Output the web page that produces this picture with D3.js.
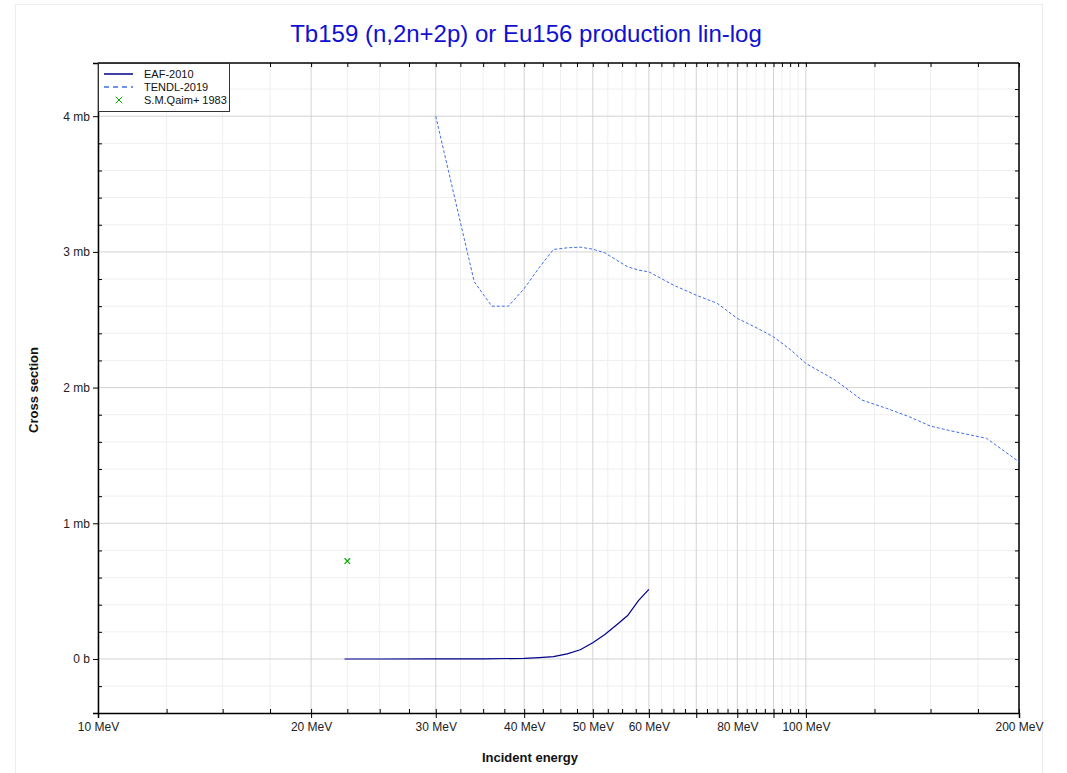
<!DOCTYPE html>
<html><head><meta charset="utf-8">
<script src="https://cdn.jsdelivr.net/npm/d3@7"></script>
<style>body{margin:0;background:#fff;} text{font-family:"Liberation Sans",Arial,sans-serif;}</style>
</head><body><svg id="c" width="1067" height="773"></svg>
<script>
// ---- data ----
const eafEnergy = [22.3, 25, 30, 35, 40, 42, 44, 46, 48, 50, 52, 54, 56, 58, 60];
const eafXs     = [0, 0, 0.0005, 0.001, 0.005, 0.01, 0.017, 0.038, 0.068, 0.12, 0.18, 0.25, 0.32, 0.43, 0.513];
const tendlEnergy = [30, 32, 34, 36, 38, 40, 42, 44, 46, 48, 50, 52, 54, 56, 58, 60, 65, 70, 75, 80, 85, 90, 95, 100, 110, 120, 130, 140, 150, 160, 180, 200];
const tendlXs     = [4.0, 3.37, 2.78, 2.60, 2.60, 2.73, 2.884, 3.018, 3.03, 3.035, 3.02, 2.993, 2.94, 2.89, 2.866, 2.853, 2.755, 2.681, 2.62, 2.51, 2.443, 2.374, 2.281, 2.178, 2.055, 1.908, 1.847, 1.785, 1.716, 1.682, 1.626, 1.453];
const qaimEnergy = [22.5];
const qaimXs     = [0.722];
const xMajor = [10, 20, 30, 40, 50, 60, 70, 80, 90, 100, 200];
const xLabels = {10:"10 MeV",20:"20 MeV",30:"30 MeV",40:"40 MeV",50:"50 MeV",60:"60 MeV",80:"80 MeV",100:"100 MeV",200:"200 MeV"};
const yMajor = [0, 1, 2, 3, 4];
const yLabels = ["0 b", "1 mb", "2 mb", "3 mb", "4 mb"];
const legendNames = ["EAF-2010", "TENDL-2019", "S.M.Qaim+ 1983"];
const title = "Tb159 (n,2n+2p) or Eu156 production lin-log";

// ---- layout ----
const svg = d3.select("#c");
const L = 98, R = 1019, T = 63, B = 713;
const x = d3.scaleLog().domain([10, 200]).range([L, R]);
const y = d3.scaleLinear().domain([-0.398, 4.392]).range([B, T]);

// minor ticks
const xMinor = [];
for (let d = 10; d < 100; d += 10) for (let k = 1; k < 4; k++) xMinor.push(d + 2.5 * k);
[125, 150, 175].forEach(v => xMinor.push(v));
const yMinor = [];
for (let v = -0.2; v <= 4.4; v += 0.2) { const r = Math.round(v * 10) / 10; if (Math.abs(r - Math.round(r)) > 1e-6) yMinor.push(r); }

svg.append("rect").attr("x", 15.5).attr("y", 4.5).attr("width", 1027).attr("height", 800)
  .attr("fill", "none").attr("stroke", "#ececec");

const g = svg.append("g");
g.selectAll(".xmg").data(xMinor).join("line").attr("x1", d => x(d)).attr("x2", d => x(d))
  .attr("y1", T).attr("y2", B).attr("stroke", "#efefef").attr("stroke-width", 1);
g.selectAll(".ymg").data(yMinor).join("line").attr("y1", d => y(d)).attr("y2", d => y(d))
  .attr("x1", L).attr("x2", R).attr("stroke", "#efefef").attr("stroke-width", 1);
g.selectAll(".xMg").data(xMajor).join("line").attr("x1", d => x(d)).attr("x2", d => x(d))
  .attr("y1", T).attr("y2", B).attr("stroke", "#d3d3d3").attr("stroke-width", 1);
g.selectAll(".yMg").data(yMajor).join("line").attr("y1", d => y(d)).attr("y2", d => y(d))
  .attr("x1", L).attr("x2", R).attr("stroke", "#d3d3d3").attr("stroke-width", 1);

// axes
const fmt = d => xLabels[d] || "";
const axB = svg.append("g").attr("transform", `translate(0,${B})`)
  .call(d3.axisBottom(x).tickValues(xMajor).tickFormat(fmt).tickSize(5).tickPadding(4));
axB.append("g").call(d3.axisTop(x).tickValues(xMajor).tickFormat("").tickSize(4));
axB.append("g").call(d3.axisTop(x).tickValues(xMinor).tickFormat("").tickSize(4));
const axL = svg.append("g").attr("transform", `translate(${L},0)`)
  .call(d3.axisLeft(y).tickValues(yMajor).tickFormat((d, i) => yLabels[i]).tickSize(5).tickPadding(3));
axL.append("g").call(d3.axisRight(y).tickValues(yMinor).tickFormat("").tickSize(4));
const axT = svg.append("g").attr("transform", `translate(0,${T})`)
  .call(d3.axisBottom(x).tickValues(xMajor.concat(xMinor)).tickFormat("").tickSize(4));
const axR = svg.append("g").attr("transform", `translate(${R},0)`)
  .call(d3.axisLeft(y).tickValues(yMajor.concat(yMinor)).tickFormat("").tickSize(4));
[axB, axL, axT, axR].forEach(a => {
  a.selectAll(".domain").attr("stroke", "#000").attr("stroke-width", 1.5);
  a.selectAll(".tick line").attr("stroke", "#000");
  a.selectAll("text").attr("font-size", 12).attr("fill", "#222").attr("font-family", "Liberation Sans, Arial, sans-serif");
});
[axB, axL].forEach(a => a.selectAll("g g .domain").remove());
[axT, axR].forEach(a => a.select(".domain").remove());
svg.append("line").attr("x1", L).attr("x2", R).attr("y1", T).attr("y2", T).attr("stroke", "#000").attr("stroke-width", 1.5);
svg.append("line").attr("x1", R).attr("x2", R).attr("y1", T).attr("y2", B).attr("stroke", "#000").attr("stroke-width", 1.5);

// clip
svg.append("clipPath").attr("id", "clip").append("rect").attr("x", L).attr("y", T).attr("width", R - L).attr("height", B - T);
const plot = svg.append("g").attr("clip-path", "url(#clip)");
const line = d3.line().x(d => x(d[0])).y(d => y(d[1]));
plot.append("path").datum(tendlEnergy.map((e, i) => [e, tendlXs[i]])).attr("d", line)
  .attr("fill", "none").attr("stroke", "#3f6ee8").attr("stroke-width", 1).attr("stroke-dasharray", "3,2");
plot.append("path").datum(eafEnergy.map((e, i) => [e, eafXs[i]])).attr("d", line)
  .attr("fill", "none").attr("stroke", "#00008b").attr("stroke-width", 1.2);
const sym = d3.symbol().type(d3.symbolX).size(22);
plot.selectAll(".q").data(qaimEnergy.map((e, i) => [e, qaimXs[i]])).join("path")
  .attr("d", sym).attr("transform", d => `translate(${x(d[0])},${y(d[1])})`)
  .attr("stroke", "#00aa00").attr("stroke-width", 1.2).attr("fill", "none");

// legend
const lg = svg.append("g");
lg.append("rect").attr("x", 98.5).attr("y", 63.5).attr("width", 131).attr("height", 48)
  .attr("fill", "#fff").attr("stroke", "#333").attr("stroke-width", 1);
const ly = [74, 87, 100];
lg.append("line").attr("x1", 104).attr("x2", 133).attr("y1", ly[0]).attr("y2", ly[0]).attr("stroke", "#00008b").attr("stroke-width", 1.5);
lg.append("line").attr("x1", 104).attr("x2", 133).attr("y1", ly[1]).attr("y2", ly[1]).attr("stroke", "#3f6ee8").attr("stroke-width", 1.5).attr("stroke-dasharray", "5,4");
lg.append("path").attr("d", d3.symbol().type(d3.symbolX).size(30)()).attr("transform", `translate(119,${ly[2]})`)
  .attr("stroke", "#00aa00").attr("stroke-width", 1).attr("fill", "none");
legendNames.forEach((n, i) => lg.append("text").attr("x", 144).attr("y", ly[i] + 4).attr("font-size", 11).attr("fill", "#111").text(n));

// titles
svg.append("text").attr("x", 526).attr("y", 42).attr("text-anchor", "middle").attr("font-size", 24).attr("fill", "#1010d0").text(title);
svg.append("text").attr("x", 530).attr("y", 762).attr("text-anchor", "middle").attr("font-size", 13).attr("font-weight", "bold").attr("fill", "#111").text("Incident energy");
svg.append("text").attr("transform", "translate(38,390) rotate(-90)").attr("text-anchor", "middle").attr("font-size", 13).attr("font-weight", "bold").attr("fill", "#111").text("Cross section");
</script></body></html>
